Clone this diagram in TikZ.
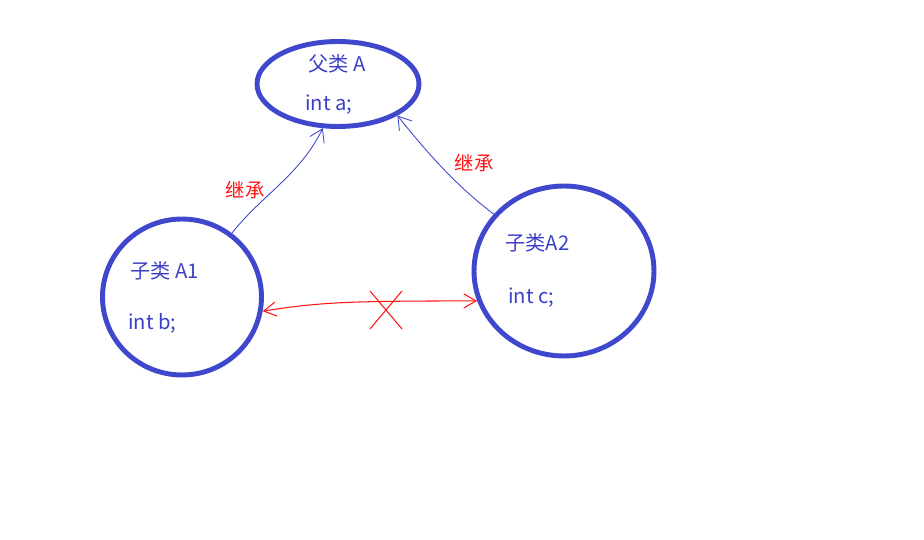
\documentclass[tikz,border=0pt]{standalone}
\usepackage{fontspec}
\setmainfont{Noto Sans CJK SC}
\usepackage{xcolor}
\usetikzlibrary{arrows.meta,shapes.geometric,shapes.misc}
\definecolor{classblue}{RGB}{63,72,204}
\definecolor{textblue}{RGB}{60,64,200}
\definecolor{markred}{RGB}{255,20,20}
\tikzset{
  classbox/.style={ellipse, draw=classblue, line width=2.8pt, inner sep=0pt},
  member/.style={anchor=west, text=textblue, font=\fontsize{11.5}{13}\selectfont, inner sep=0pt},
  inherit/.style={draw=classblue, line width=0.5pt, -{Straight Barb[length=7pt,width=9pt]}},
  nolink/.style={draw=markred, line width=0.6pt, {Straight Barb[length=7pt,width=8pt]}-{Straight Barb[length=7pt,width=8pt]}},
  relname/.style={text=markred, font=\fontsize{11}{13}\selectfont, inner sep=0pt}
}

\begin{document}
\begin{tikzpicture}[x=0.02cm, y=-0.02cm]
      \useasboundingbox[fill=white] (0,0) rectangle (924,540);
      % classes
      \node[classbox, minimum width=3.24cm, minimum height=1.7cm] (parent) at (338,84) {};
      \node[classbox, minimum width=3.18cm, minimum height=3.12cm] (childA) at (182,297) {};
      \node[classbox, minimum width=3.6cm, minimum height=3.4cm] (childB) at (564,271) {};
      \node[member] (parentname) at (308,64) {父类 A};
      \node[member] (parentbody) at (305,105) {int a;};
      \node[member] (childAname) at (130,271) {子类 A1};
      \node[member] (childAbody) at (128,323) {int b;};
      \node[member] (childBname) at (505,243) {子类A2};
      \node[member] (childBbody) at (508,298) {int c;};
      % inheritance
      \draw[inherit] (childA.52) .. controls (262,195) and (300,175) .. (parent.251);
      \draw[inherit] (childB.141) .. controls (455,185) and (425,150) .. (parent.332);
      \node[relname] (labelA) at (245,190) {继承};
      \node[relname] (labelB) at (474,163) {继承};
      % no relation between the children
      \draw[nolink] (childA.-10) .. controls (320,302) and (350,301) .. (childB.199);
      \node[cross out, draw=markred, line width=0.6pt, minimum width=0.62cm, minimum height=0.74cm] (nomark) at (386,310) {};
\end{tikzpicture}
\end{document}
